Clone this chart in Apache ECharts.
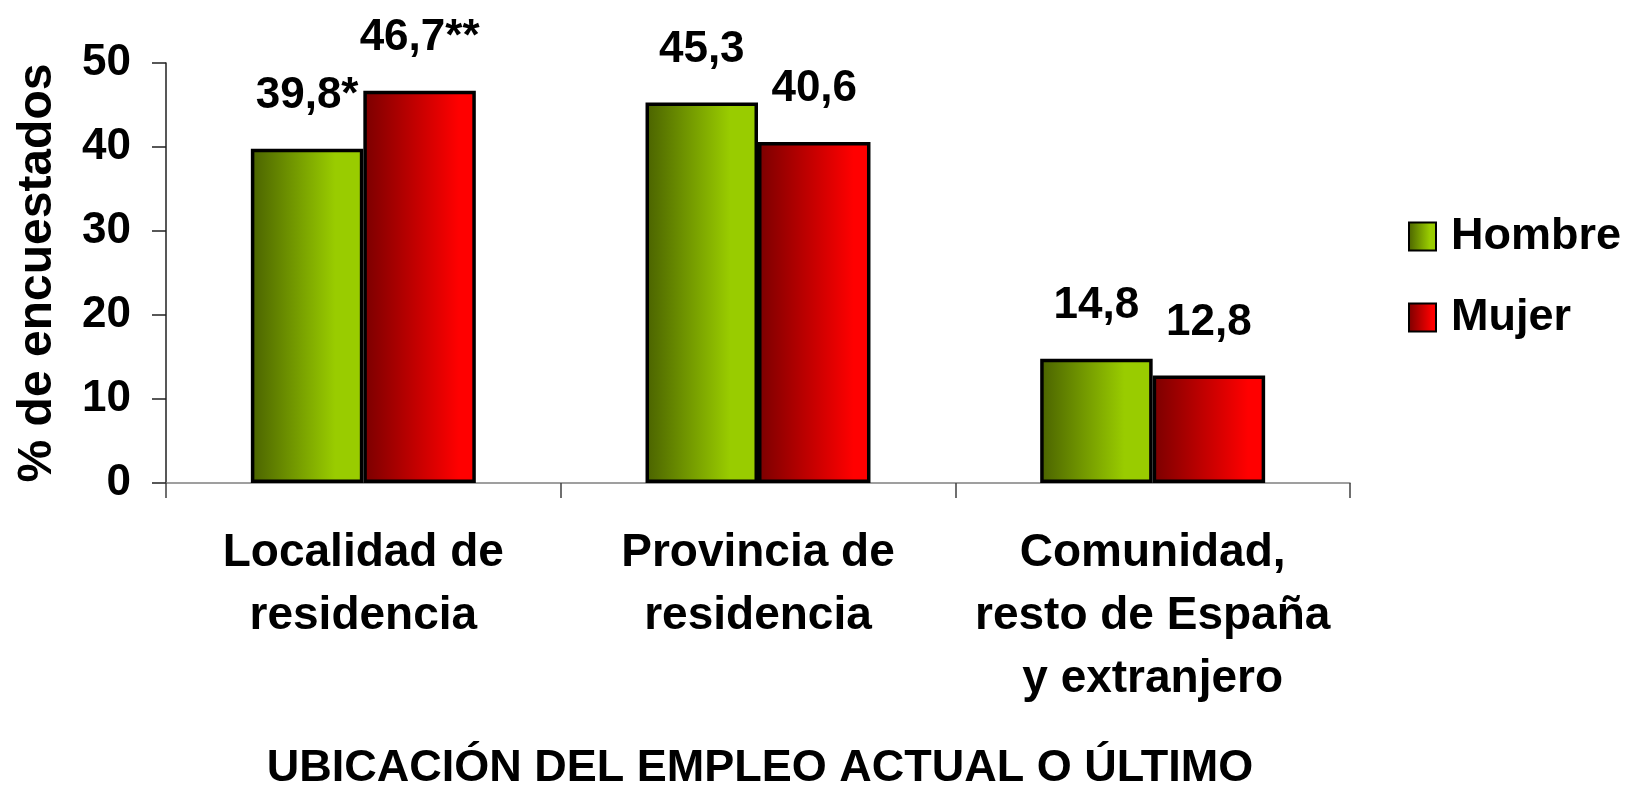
<!DOCTYPE html>
<html>
<head>
<meta charset="utf-8">
<title>Ubicación del empleo</title>
<script src="https://cdn.jsdelivr.net/npm/echarts@6/dist/echarts.min.js"></script>
<style>
    html, body { margin: 0; padding: 0; background: #fff; }
    #chart { width: 1628px; height: 787px; }
</style>
</head>
<body>
<div id="chart"></div>
<script>
// datos
var categorias = ['Localidad de\nresidencia', 'Provincia de\nresidencia', 'Comunidad,\nresto de España\ny extranjero'];
var hombre = [39.8, 45.3, 14.8];
var mujer = [46.7, 40.6, 12.8];
var etiquetasHombre = ['39,8*', '45,3', '14,8'];
var etiquetasMujer = ['46,7**', '40,6', '12,8'];
var ticksY = [0, 10, 20, 30, 40, 50];

var fuente = 'Liberation Sans';

var verde = new echarts.graphic.LinearGradient(0, 0, 1, 0, [
    { offset: 0, color: '#4a6200' },
    { offset: 0.75, color: '#99cc00' },
    { offset: 1, color: '#99cc00' }
]);
var rojo = new echarts.graphic.LinearGradient(0, 0, 1, 0, [
    { offset: 0, color: '#7a0000' },
    { offset: 0.85, color: '#ff0000' },
    { offset: 1, color: '#ff0000' }
]);

function etiqueta(textos) {
    return {
        show: true,
        position: 'top',
        distance: 31,
        formatter: function (p) { return textos[p.dataIndex]; },
        color: '#000',
        fontFamily: fuente,
        fontWeight: 'bold',
        fontSize: 44,
        lineHeight: 44
    };
}

var chart = echarts.init(document.getElementById('chart'));
var option = {
    animation: false,
    textStyle: { fontFamily: fuente },
    title: {
        text: 'UBICACIÓN DEL EMPLEO ACTUAL O ÚLTIMO',
        left: 760,
        top: 746,
        padding: 0,
        textAlign: 'center',
        textStyle: {
            color: '#000',
            fontFamily: fuente,
            fontWeight: 'bold',
            fontSize: 45,
            lineHeight: 46
        }
    },
    legend: {
        orient: 'vertical',
        left: 1408,
        top: 214,
        align: 'left',
        padding: 0,
        itemWidth: 27,
        itemHeight: 28,
        itemGap: 36,
        icon: 'rect',
        data: ['Hombre', 'Mujer'],
        formatter: '{t|{name}}',
        textStyle: {
            color: '#000',
            fontFamily: fuente,
            fontWeight: 'bold',
            fontSize: 45,
            rich: {
                t: {
                    color: '#000',
                    fontFamily: fuente,
                    fontWeight: 'bold',
                    fontSize: 45,
                    lineHeight: 44,
                    padding: [0, 0, 0, 10]
                }
            }
        }
    },
    grid: {
        left: 166,
        right: 278,
        top: 63,
        bottom: 304,
        containLabel: false
    },
    xAxis: {
        type: 'category',
        data: categorias,
        axisLine: { lineStyle: { color: '#808080', width: 1.5 } },
        axisTick: { show: true, length: 15, lineStyle: { color: '#404040', width: 1.5 } },
        axisLabel: {
            margin: 39,
            color: '#000',
            fontFamily: fuente,
            fontWeight: 'bold',
            fontSize: 46,
            lineHeight: 63,
            interval: 0
        }
    },
    yAxis: {
        type: 'value',
        min: 0,
        max: 50,
        interval: 10,
        name: '% de encuestados',
        nameLocation: 'middle',
        nameGap: 104,
        nameTextStyle: {
            color: '#000',
            fontFamily: fuente,
            fontWeight: 'bold',
            fontSize: 48
        },
        splitLine: { show: false },
        axisLine: { show: true, lineStyle: { color: '#202020', width: 1.5 } },
        axisTick: { show: true, length: 14, lineStyle: { color: '#202020', width: 1.5 } },
        axisLabel: {
            margin: 35,
            color: '#000',
            fontFamily: fuente,
            fontWeight: 'bold',
            fontSize: 44,
            formatter: function (v) { return ticksY.indexOf(v) >= 0 ? String(v) : ''; }
        }
    },
    series: [{
        name: 'Hombre',
        type: 'bar',
        data: hombre,
        barGap: '0%',
        barCategoryGap: '43%',
        itemStyle: { color: verde, borderColor: '#000', borderWidth: 3.5 },
        label: etiqueta(etiquetasHombre)
    }, {
        name: 'Mujer',
        type: 'bar',
        data: mujer,
        itemStyle: { color: rojo, borderColor: '#000', borderWidth: 3.5 },
        label: etiqueta(etiquetasMujer)
    }]
};
chart.setOption(option);
</script>
</body>
</html>
